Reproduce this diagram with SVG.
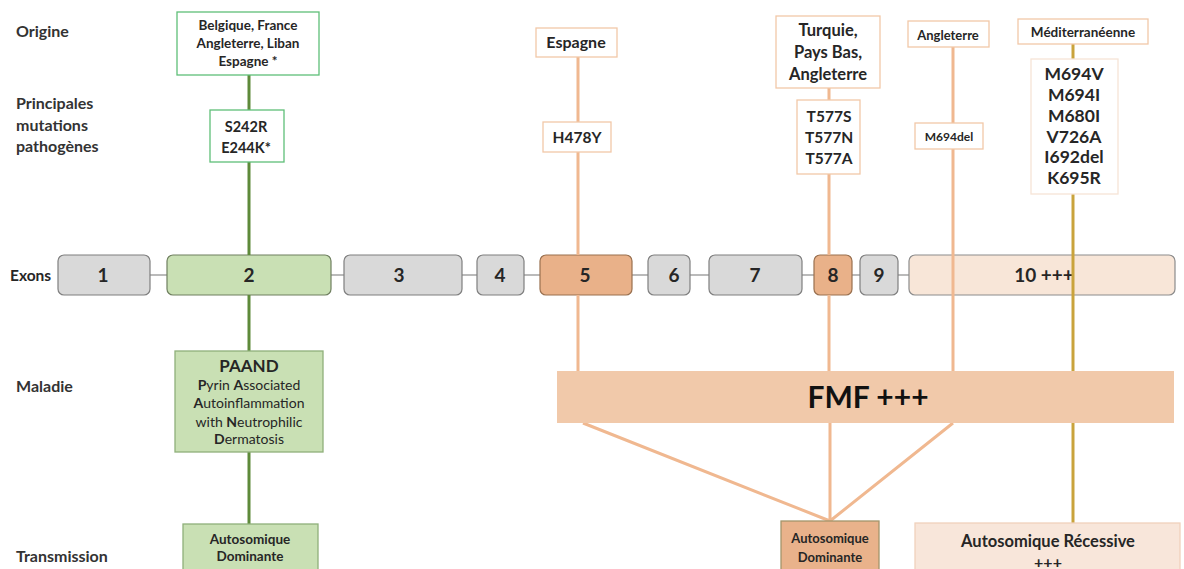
<svg xmlns="http://www.w3.org/2000/svg" width="1184" height="569" viewBox="0 0 1184 569">
<style>
text{font-family:Lato,"Liberation Sans",sans-serif;font-weight:bold;fill:#262626}
.c{text-anchor:middle}
.lbl{font-size:16px;fill:#333}
.ex{fill:#d9d9d9;stroke:#7f7f7f;stroke-width:1.2}
.exg{fill:#c9e0b4;stroke:#6f7f5f;stroke-width:1.2}
.exo{fill:#e9b189;stroke:#99704f;stroke-width:1.2}
.exl{fill:#f8e6d8;stroke:#8c8c8c;stroke-width:1.2}
.num{font-size:19px;text-anchor:middle}
.gbox{fill:#fff;stroke:#5fbf78;stroke-width:1.3}
.obox{fill:#fff;stroke:#f2c8a8;stroke-width:1.3}
.gl{stroke:#5e8a3a;stroke-width:3;fill:none}
.ol{stroke:#f0b890;stroke-width:3;fill:none}
.yl{stroke:#c9a33c;stroke-width:3;fill:none}
.link{stroke:#8c8c8c;stroke-width:1.2}
.n{font-weight:normal}
</style>
<rect width="1184" height="569" fill="#fff"/>
<g id="row-labels">
<text class="lbl" x="16" y="37">Origine</text>
<text class="lbl" x="16" y="109">Principales</text>
<text class="lbl" x="16" y="131">mutations</text>
<text class="lbl" x="16" y="152">pathogènes</text>
<text x="10" y="281" style="font-size:15.5px">Exons</text>
<text class="lbl" x="16" y="392">Maladie</text>
<text class="lbl" x="16" y="562">Transmission</text>
</g>
<g id="exon-links">
<line class="link" x1="150" y1="275" x2="167" y2="275"/>
<line class="link" x1="331" y1="275" x2="344" y2="275"/>
<line class="link" x1="462" y1="275" x2="477" y2="275"/>
<line class="link" x1="524" y1="275" x2="540" y2="275"/>
<line class="link" x1="632" y1="275" x2="648" y2="275"/>
<line class="link" x1="690" y1="275" x2="709" y2="275"/>
<line class="link" x1="802" y1="275" x2="814" y2="275"/>
<line class="link" x1="852" y1="275" x2="860" y2="275"/>
<line class="link" x1="898" y1="275" x2="909" y2="275"/>
</g>
<g id="exons">
<g id="exon1"><rect class="ex" x="58" y="255" width="92" height="40" rx="6"/><text class="num" x="103" y="282">1</text></g>
<g id="exon2"><rect class="exg" x="167" y="255" width="164" height="40" rx="6"/><text class="num" x="249" y="282">2</text></g>
<g id="exon3"><rect class="ex" x="344" y="255" width="118" height="40" rx="6"/><text class="num" x="399" y="282">3</text></g>
<g id="exon4"><rect class="ex" x="477" y="255" width="47" height="40" rx="6"/><text class="num" x="500" y="282">4</text></g>
<g id="exon5"><rect class="exo" x="540" y="255" width="92" height="40" rx="6"/><text class="num" x="585" y="282">5</text></g>
<g id="exon6"><rect class="ex" x="648" y="255" width="42" height="40" rx="6"/><text class="num" x="674" y="282">6</text></g>
<g id="exon7"><rect class="ex" x="709" y="255" width="93" height="40" rx="6"/><text class="num" x="755" y="282">7</text></g>
<g id="exon8"><rect class="exo" x="814" y="255" width="38" height="40" rx="6"/><text class="num" x="833" y="282">8</text></g>
<g id="exon9"><rect class="ex" x="860" y="255" width="38" height="40" rx="6"/><text class="num" x="879" y="282">9</text></g>
<g id="exon10"><rect class="exl" x="909" y="255" width="266" height="40" rx="6"/><text class="num" x="1044" y="282">10 +++</text></g>
</g>
<g id="connectors">
<path class="gl" d="M249 75V110M249 162V255M249 295V351M249 452V524"/>
<path class="ol" d="M578 57V122M578 152V255M578 295V371"/>
<path class="ol" d="M829 88V100M829 174V255M829 295V371"/>
<path class="ol" d="M953 47V123M953 149V371"/>
<path class="yl" d="M1073 44V59M1073 194V523"/>
<path class="ol" d="M583 423L830 521M830 423V521M953 423L830 521"/>
</g>
<g id="origin-green"><rect class="gbox" x="177" y="12" width="142" height="63"/>
<text class="c" x="248" y="30" style="font-size:13.5px">Belgique, France</text>
<text class="c" x="248" y="48" style="font-size:13.5px">Angleterre, Liban</text>
<text class="c" x="248" y="66" style="font-size:13.5px">Espagne *</text></g>
<g id="mut-green"><rect class="gbox" x="210" y="110" width="74" height="52"/>
<text class="c" x="246" y="132" style="font-size:14.5px">S242R</text>
<text class="c" x="246" y="153" style="font-size:14.5px">E244K*</text></g>
<g id="origin-espagne"><rect class="obox" x="536" y="28" width="81" height="29"/>
<text class="c" x="576" y="48" style="font-size:16px">Espagne</text></g>
<g id="mut-h478y"><rect class="obox" x="543" y="122" width="68" height="30"/>
<text class="c" x="577" y="142.5" style="font-size:15.5px">H478Y</text></g>
<g id="origin-turquie"><rect class="obox" x="776" y="16" width="104" height="72"/>
<text class="c" x="828" y="36" style="font-size:16.5px">Turquie,</text>
<text class="c" x="828" y="58" style="font-size:16.5px">Pays Bas,</text>
<text class="c" x="828" y="80" style="font-size:16.5px">Angleterre</text></g>
<g id="mut-t577"><rect class="obox" x="797" y="100" width="63" height="74"/>
<text class="c" x="829" y="121.5" style="font-size:15.5px">T577S</text>
<text class="c" x="829" y="142.5" style="font-size:15.5px">T577N</text>
<text class="c" x="829" y="163.5" style="font-size:15.5px">T577A</text></g>
<g id="origin-angleterre"><rect class="obox" x="908" y="21" width="81" height="26"/>
<text class="c" x="948" y="39.5" style="font-size:13px">Angleterre</text></g>
<g id="mut-m694del"><rect class="obox" x="915" y="123" width="68" height="26"/>
<text class="c" x="949" y="140.5" style="font-size:12px">M694del</text></g>
<g id="origin-med"><rect class="obox" x="1018" y="19" width="130" height="25"/>
<text class="c" x="1083" y="37" style="font-size:13.5px">Méditerranéenne</text></g>
<g id="mut-med"><rect x="1031" y="59" width="87" height="135" fill="#fff" stroke="#f6e4d6" stroke-width="1.3"/>
<text class="c" x="1074" y="80" style="font-size:17.5px">M694V</text>
<text class="c" x="1074" y="101" style="font-size:17.5px">M694I</text>
<text class="c" x="1074" y="122" style="font-size:17.5px">M680I</text>
<text class="c" x="1074" y="143" style="font-size:17.5px">V726A</text>
<text class="c" x="1074" y="163" style="font-size:17.5px">I692del</text>
<text class="c" x="1074" y="184" style="font-size:17.5px">K695R</text></g>
<g id="paand"><rect x="175" y="351" width="148" height="101" fill="#c9e0b4" stroke="#8fb07a" stroke-width="1.3"/>
<text class="c" x="249" y="372" style="font-size:17px">PAAND</text>
<text class="c" x="249" y="390" style="font-size:14px"><tspan>P</tspan><tspan class="n">yrin </tspan><tspan>A</tspan><tspan class="n">ssociated</tspan></text>
<text class="c" x="249" y="408" style="font-size:14px"><tspan>A</tspan><tspan class="n">utoinflammation</tspan></text>
<text class="c" x="249" y="427" style="font-size:14px"><tspan class="n">with </tspan><tspan>N</tspan><tspan class="n">eutrophilic</tspan></text>
<text class="c" x="249" y="444" style="font-size:14px"><tspan>D</tspan><tspan class="n">ermatosis</tspan></text></g>
<g id="fmf"><rect x="557" y="371" width="617" height="52" fill="#f1c9aa"/>
<text class="c" x="868" y="408" style="font-size:30px;fill:#111">FMF +++</text></g>
<g id="ad-green"><rect x="183" y="524" width="135" height="50" fill="#c9e0b4" stroke="#8fb07a" stroke-width="1.3"/>
<text class="c" x="250" y="544" style="font-size:13.5px">Autosomique</text>
<text class="c" x="250" y="561" style="font-size:13.5px">Dominante</text></g>
<g id="ad-orange"><rect x="781" y="521" width="98" height="52" fill="#e9b28b" stroke="#a4946a" stroke-width="1.3"/>
<text class="c" x="830" y="542.5" style="font-size:13px">Autosomique</text>
<text class="c" x="830" y="561.5" style="font-size:13px">Dominante</text></g>
<g id="ar"><rect x="915" y="523" width="265" height="50" fill="#f8e6da" stroke="#f0d2bc" stroke-width="1.3"/>
<text class="c" x="1048" y="547" style="font-size:16.5px">Autosomique Récessive</text>
<text class="c" x="1048" y="568" style="font-size:16px">+++</text></g>
</svg>
